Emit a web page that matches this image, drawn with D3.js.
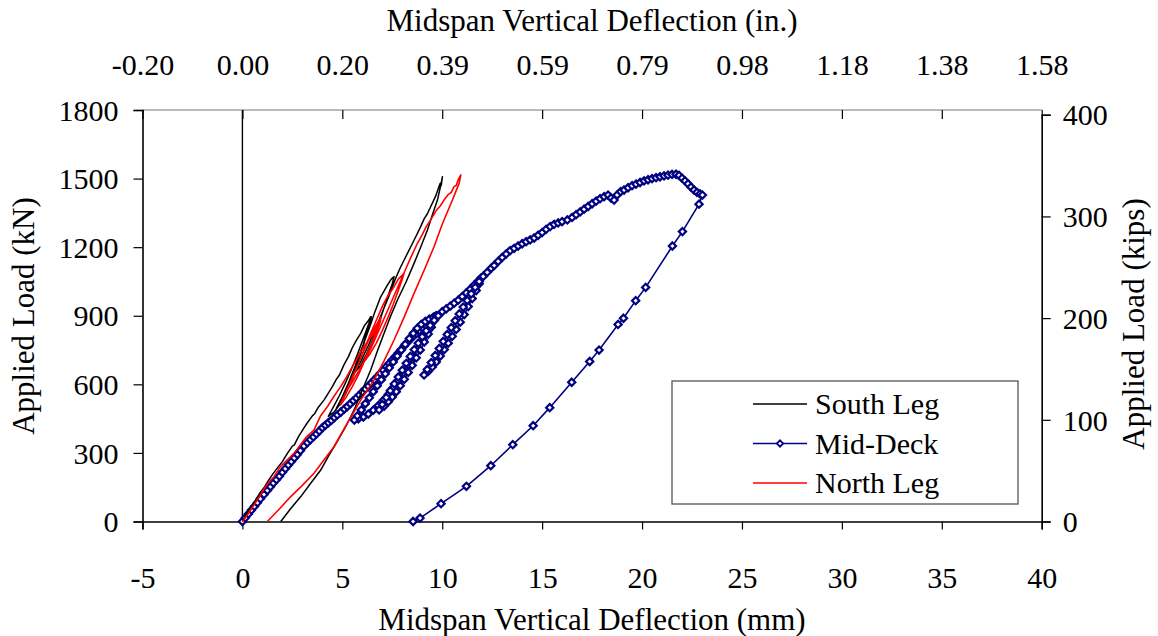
<!DOCTYPE html>
<html>
<head>
<meta charset="utf-8">
<script src="https://cdn.jsdelivr.net/npm/d3@7"></script>
<style>
  body { margin: 0; background: #fff; }
  text { font-family: "Liberation Serif", "Times New Roman", serif; fill: #000; }
</style>
</head>
<body>
<div id="chart"></div>
<script>
// axis ticks
const xTicks = [-5, 0, 5, 10, 15, 20, 25, 30, 35, 40];
const topTickLabels = ["-0.20", "0.00", "0.20", "0.39", "0.59", "0.79", "0.98", "1.18", "1.38", "1.58"];
const yTicks = [0, 300, 600, 900, 1200, 1500, 1800];
const kipTicks = [0, 100, 200, 300, 400];
const KN_PER_KIP = 4.448222;

const seriesNames = ["South Leg", "Mid-Deck", "North Leg"];

// [deflection mm, load kN]
const southLeg = [
  [0,0],[0.3,45],[0.6,85],[0.9,128],[1.1,150],[1.25,172],[1.5,205],[1.8,240],[2.0,262],[2.25,298],[2.5,330],[2.6,335],
  [2.8,370],[3.05,405],[3.25,432],[3.5,462],[3.6,470],[3.8,500],[4.08,531],[4.3,562],[4.5,590],[4.7,622],[4.85,640],
  [5.08,685],[5.3,720],[5.5,760],[5.7,792],[5.92,823],[6.1,856],[6.3,878],[6.42,896],
  [6.35,870],[6.2,820],[6.0,760],[5.75,690],[5.5,625],[5.2,565],[4.9,515],[4.6,480],[4.3,460],
  [4.55,500],[4.85,550],[5.15,605],[5.45,665],[5.75,730],[6.05,800],[6.3,860],[6.45,895],
  [6.4,875],[6.25,830],[6.05,770],[5.8,700],[5.55,640],[5.25,580],[4.95,535],[4.7,495],
  [5.0,545],[5.3,605],[5.6,670],[5.9,740],[6.2,810],[6.45,870],[6.6,910],[6.92,983],[7.1,1010],[7.3,1040],[7.45,1060],[7.59,1071],
  [7.5,1040],[7.3,990],[7.05,925],[6.8,860],[6.5,790],[6.2,730],[5.9,680],[5.6,650],
  [5.95,705],[6.3,770],[6.65,840],[7.0,915],[7.35,990],[7.65,1060],[7.9,1110],[8.26,1173],[8.5,1215],[8.7,1250],
  [8.92,1290],[9.1,1325],[9.25,1345],[9.42,1377],[9.6,1410],[9.7,1430],[9.84,1465],[9.9,1480],[9.95,1470],[10.01,1508],
  [9.95,1480],[9.76,1406],[9.5,1340],[9.26,1275],[8.92,1200],[8.59,1129],[8.2,1050],[7.76,969],[7.4,895],[7.09,823],
  [6.75,745],[6.42,663],[6.0,575],[5.59,488],[5.2,420],[4.75,350],[4.3,285],[3.92,225],[3.4,165],[2.92,109],[2.4,55],[1.92,0]
];

const northLeg = [
  [0,0],[0.3,35],[0.6,75],[0.9,115],[1.2,160],[1.58,196],[1.9,240],[2.2,265],[2.58,298],[2.9,335],[3.2,370],[3.58,400],
  [3.9,460],[4.25,502],[4.6,550],[4.92,590],[5.2,630],[5.59,692],[5.9,740],[6.2,780],[6.59,823],[6.75,860],[6.92,881],
  [6.85,860],[6.65,815],[6.4,760],[6.1,700],[5.8,640],[5.5,590],[5.2,545],[4.9,510],
  [5.2,570],[5.5,630],[5.8,690],[6.1,750],[6.4,810],[6.7,860],[6.95,895],
  [6.85,870],[6.65,820],[6.4,765],[6.1,705],[5.8,655],[5.5,610],[5.25,575],
  [5.55,635],[5.85,700],[6.15,765],[6.45,830],[6.75,890],[7.05,950],[7.3,990],[7.59,1027],[7.8,1060],[8.09,1086],
  [8.0,1060],[7.8,1010],[7.55,950],[7.3,895],[7.0,835],[6.7,780],[6.4,735],[6.1,700],
  [6.45,760],[6.8,830],[7.15,900],[7.5,970],[7.85,1040],[8.15,1100],[8.4,1150],[8.76,1217],[9.0,1255],[9.2,1290],
  [9.42,1319],[9.7,1360],[9.9,1380],[10.09,1406],[10.3,1430],[10.45,1440],[10.59,1465],[10.7,1470],[10.8,1495],[10.93,1516],
  [10.85,1480],[10.51,1406],[10.0,1300],[9.59,1202],[9.1,1100],[8.59,998],[8.1,895],[7.59,794],[7.1,705],[6.59,619],
  [5.92,531],[5.25,430],[4.58,327],[4.08,269],[3.58,211],[3.0,158],[2.42,109],[1.8,50],[1.25,0]
];

const midDeck = [
  [0,0],[0.15,16],[0.3,33],[0.45,50],[0.6,66],[0.75,82],[0.9,99],[1.08,118],[1.25,136],[1.4,152],[1.55,168],[1.7,183],
  [1.85,198],[2.0,215],[2.15,231],[2.3,247],[2.45,262],[2.6,278],[2.75,293],[2.9,310],[3.08,330],[3.25,345],[3.4,358],
  [3.55,370],[3.7,383],[3.85,396],[4.0,410],[4.15,421],[4.3,432],[4.45,442],[4.6,455],[4.75,466],[4.92,478],[5.1,492],
  [5.25,503],[5.4,515],[5.55,528],[5.7,540],[5.85,553],[6.0,567],[6.15,580],[6.3,592],[6.45,606],[6.6,619],[6.75,633],
  [6.9,648],[7.05,662],[7.2,677],[7.35,692],[7.5,707],[7.65,722],[7.8,737],[7.95,752],[8.1,768],[8.26,784],[8.4,797],
  [8.55,810],[8.7,822],[8.85,835],[9.0,847],[9.15,860],[9.3,872],[9.45,884],[9.6,895],
  [9.5,870],[9.3,835],[9.05,795],[8.8,757],[8.55,720],[8.3,684],[8.05,650],[7.8,617],[7.55,586],[7.3,556],[7.05,530],
  [6.8,507],[6.55,487],[6.3,470],[6.05,457],[5.8,449],[5.6,444],
  [5.75,462],[5.95,488],[6.15,515],[6.35,541],[6.55,568],[6.75,594],[6.95,620],[7.15,646],[7.35,672],[7.55,698],
  [7.75,724],[7.95,750],[8.15,775],[8.35,800],[8.55,823],[8.75,845],[8.95,862],[9.15,875],[9.35,885],[9.55,893],[9.7,900],
  [9.6,880],[9.45,850],[9.3,820],[9.1,785],[8.9,750],[8.7,716],[8.5,683],[8.3,652],[8.1,622],[7.9,594],[7.7,568],
  [7.5,545],[7.3,524],[7.1,505],[6.84,488],
  [7.0,512],[7.2,542],[7.4,572],[7.6,602],[7.8,632],[8.0,662],[8.2,692],[8.4,722],[8.6,752],[8.8,780],[9.0,808],
  [9.2,834],[9.4,858],[9.6,880],[9.8,900],[10.0,918],
  [10.2,930],[10.4,942],[10.6,955],[10.8,968],[11.0,984],[11.2,1000],[11.4,1016],[11.6,1034],[11.8,1052],[11.95,1066],
  [11.85,1040],[11.7,1010],[11.5,975],[11.3,940],[11.1,905],[10.9,872],[10.7,840],[10.5,810],[10.3,780],[10.1,752],
  [9.9,724],[9.7,698],[9.5,676],[9.3,657],[9.09,641],
  [9.25,665],[9.45,695],[9.65,726],[9.85,757],[10.05,788],[10.25,818],[10.45,848],[10.65,878],[10.85,908],[11.05,938],
  [11.25,967],[11.45,996],[11.65,1024],[11.85,1050],[12.05,1072],
  [12.25,1090],[12.45,1108],[12.6,1120],[12.8,1138],[13.0,1155],[13.2,1170],[13.4,1185],[13.6,1195],[13.8,1205],
  [14.0,1215],[14.2,1224],[14.4,1232],[14.6,1240],[14.8,1252],[15.0,1264],[15.2,1278],[15.4,1290],[15.6,1300],
  [15.8,1306],[16.0,1312],[16.26,1319],[16.5,1330],[16.7,1342],[16.9,1354],[17.1,1366],[17.3,1378],[17.5,1390],
  [17.7,1401],[17.9,1412],[18.1,1421],[18.3,1428],[18.45,1415],[18.6,1406],[18.75,1428],[18.93,1443],[19.1,1450],
  [19.3,1460],[19.5,1469],[19.7,1476],[19.9,1483],[20.1,1490],[20.3,1495],[20.5,1500],[20.7,1504],[20.9,1508],
  [21.1,1512],[21.3,1515],[21.5,1518],[21.7,1519],[21.85,1514],[22.0,1502],[22.15,1490],[22.3,1477],[22.45,1463],
  [22.6,1450],[22.75,1440],[22.9,1433],[23.02,1428],
  [22.85,1388],[22.02,1268],[21.52,1205],[20.18,1024],[19.68,966],[19.07,889],[18.8,862],[17.85,750],[17.38,700],
  [16.48,609],[15.38,498],[14.55,419],[13.53,336],[12.43,244],[11.21,154],[9.94,78],[8.89,15],[8.54,0]
];

const W = 1158, H = 636;
const svg = d3.select('#chart').append('svg')
  .attr('width', W)
  .attr('height', H);

const x = d3.scaleLinear().domain([-5, 40]).range([142.5, 1041.7]);
const y = d3.scaleLinear().domain([0, 1800]).range([521.5, 110]);
const yKip = d3.scaleLinear().domain([0, 400]).range([y(0), y(400 * KN_PER_KIP)]);

// plot area frame (top edge)
svg.append('line')
  .attr('x1', x(-5)).attr('x2', x(40))
  .attr('y1', y(1800)).attr('y2', y(1800))
  .attr('stroke', '#777').attr('stroke-width', 1.2);

// axes
const axisBottom = d3.axisBottom(x).tickValues(xTicks).tickSize(8).tickFormat(d => String(d));
const gx = svg.append('g').attr('transform', `translate(0,${y(0)})`).call(axisBottom);

const axisTop = d3.axisTop(x).tickValues(xTicks).tickSize(-9).tickFormat((d, i) => topTickLabels[i]);
const gxt = svg.append('g').attr('transform', `translate(0,${y(1800)})`).call(axisTop);
gxt.select('.domain').remove();

const axisLeft = d3.axisLeft(y).tickValues(yTicks).tickSize(9).tickFormat(d => String(d));
const gy = svg.append('g').attr('transform', `translate(${x(-5)},0)`).call(axisLeft);

const axisRight = d3.axisRight(yKip).tickValues(kipTicks).tickSize(9).tickFormat(d => String(d));
const gyr = svg.append('g').attr('transform', `translate(${x(40)},0)`).call(axisRight);

[gx, gxt, gy, gyr].forEach(g => {
  g.selectAll('.domain').attr('stroke', '#000').attr('stroke-width', 1.6);
  g.selectAll('.tick line').attr('stroke', '#000').attr('stroke-width', 1.2);
  g.selectAll('.tick text')
    .style('font-family', '"Liberation Serif", serif')
    .style('font-size', '30px')
    .attr('fill', '#000');
});
gx.selectAll('.tick text').attr('y', 66).attr('dy', 0);
gxt.selectAll('.tick text').attr('y', -35).attr('dy', 0).attr('transform', null);
gxt.selectAll('.tick line').attr('y2', 9);
gy.selectAll('.tick text').attr('x', -24).attr('dy', '0.34em');
gyr.selectAll('.tick text').attr('x', 21).attr('dy', '0.34em');

// vertical line at zero deflection
svg.append('line')
  .attr('x1', x(0)).attr('x2', x(0))
  .attr('y1', y(0)).attr('y2', y(1800))
  .attr('stroke', '#000').attr('stroke-width', 1.4);

// axis titles
const title = (txt, tx, ty, rot) => svg.append('text')
  .attr('transform', `translate(${tx},${ty})` + (rot ? ` rotate(${rot})` : ''))
  .attr('text-anchor', 'middle')
  .style('font-size', '31px')
  .text(txt);
title('Midspan Vertical Deflection (mm)', 592, 630);
title('Midspan Vertical Deflection (in.)', 592, 31);
title('Applied Load (kN)', 34, 316, -90);
title('Applied Load (kips)', 1144, 324, -90);

// series
const line = d3.line().x(d => x(d[0])).y(d => y(d[1]));
const plot = svg.append('g');

const diamond = 'M0,-3.6L3.6,0L0,3.6L-3.6,0Z';

plot.append('path').datum(midDeck)
  .attr('d', line).attr('fill', 'none')
  .attr('stroke', '#000080').attr('stroke-width', 1.6);
plot.append('g').selectAll('path')
  .data(midDeck)
  .enter()
  .append('path')
  .attr('d', diamond)
  .attr('transform', d => `translate(${x(d[0])},${y(d[1])})`)
  .attr('fill', '#fff')
  .attr('stroke', '#000080')
  .attr('stroke-width', 2.2);

plot.append('path').datum(southLeg)
  .attr('d', line).attr('fill', 'none')
  .attr('stroke', '#000').attr('stroke-width', 1.5)
  .attr('stroke-linejoin', 'round');

plot.append('path').datum(northLeg)
  .attr('d', line).attr('fill', 'none')
  .attr('stroke', '#ff0000').attr('stroke-width', 1.6)
  .attr('stroke-linejoin', 'round');

// legend
const legend = svg.append('g');
legend.append('rect')
  .attr('x', 672).attr('y', 381).attr('width', 346).attr('height', 123)
  .attr('fill', '#fff').attr('stroke', '#555').attr('stroke-width', 1.3);
const legendColors = ['#000', '#000080', '#ff0000'];
seriesNames.forEach((name, i) => {
  const ly = 404 + i * 39.5;
  legend.append('line')
    .attr('x1', 753).attr('x2', 807).attr('y1', ly).attr('y2', ly)
    .attr('stroke', legendColors[i]).attr('stroke-width', 1.6);
  if (i === 1) {
    legend.append('path').attr('d', 'M0,-3.2L3.2,0L0,3.2L-3.2,0Z')
      .attr('transform', `translate(780,${ly})`)
      .attr('fill', '#fff').attr('stroke', '#000080').attr('stroke-width', 1.8);
  }
  legend.append('text')
    .attr('x', 815).attr('y', ly + 10)
    .style('font-size', '30px')
    .text(name);
});
</script>
</body>
</html>
